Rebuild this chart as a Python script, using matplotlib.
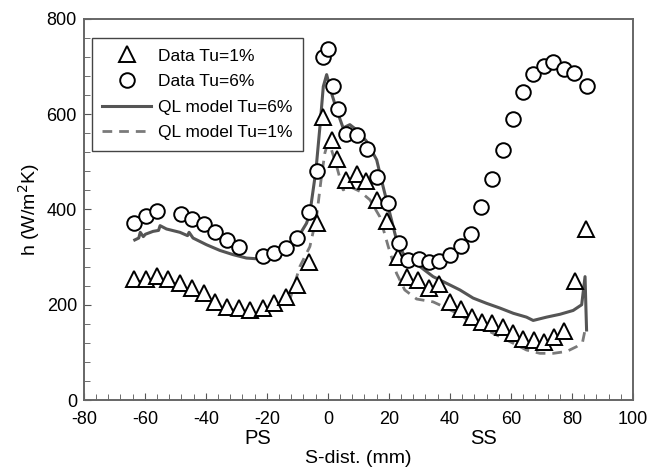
import matplotlib
matplotlib.use("Agg")
import matplotlib.pyplot as plt
from matplotlib.ticker import MultipleLocator

plt.rcParams['font.family'] = ['Liberation Sans', 'DejaVu Sans']
plt.rcParams['axes.unicode_minus'] = False

# measured heat transfer coefficient, Tu = 1%
s_tu1 = [-63.6, -59.7, -56, -52.4, -48.5, -44.5, -40.7, -37, -33, -29.1, -25.4, -21.4,
         -17.5, -13.8, -10.1, -6.2, -3.7, -1.7, 1.5, 3.1, 5.9, 9.4, 12.5, 16, 19.4, 23.1,
         26.1, 29.7, 33.3, 36.5, 39.9, 43.5, 47.1, 50.4, 53.7, 57.3, 60.6, 64, 67.5, 70.9,
         74.1, 77.4, 81, 84.6]
h_tu1 = [254, 255, 261, 255, 245, 235, 224, 206, 196, 193, 189, 193, 203, 216, 241, 290,
         372, 594, 546, 505, 462, 475, 459, 420, 375, 300, 259, 251, 235, 243, 205, 190,
         175, 164, 162, 153, 141, 129, 126, 122, 132, 145, 250, 360]

# measured heat transfer coefficient, Tu = 6%
s_tu6 = [-63.6, -59.7, -56, -48.3, -44.5, -40.7, -37, -33, -29.1, -21.4, -17.5, -13.8,
         -10.1, -6.2, -3.7, -1.7, -0.1, 1.7, 3.2, 5.9, 9.4, 12.7, 16.2, 19.6, 23.4, 26.3,
         29.9, 33.3, 36.5, 39.9, 43.5, 46.8, 50.2, 53.9, 57.3, 60.6, 63.8, 67.3, 70.8, 73.9,
         77.4, 80.7, 84.8]
h_tu6 = [371, 387, 396, 390, 380, 369, 352, 336, 322, 303, 309, 319, 340, 394, 480, 720,
         737, 660, 611, 558, 557, 527, 469, 414, 329, 293, 297, 290, 291, 304, 324, 348,
         405, 464, 524, 590, 646, 685, 702, 709, 695, 686, 660]

# QL model, Tu = 6%
s_ql6 = [-63.3, -62, -61.5, -60.5, -59.8, -57.3, -55.5, -55, -52.9, -48.5, -46, -45.5,
         -44.2, -39.8, -35.4, -31, -26.7, -22.3, -19, -14.7, -10.3, -7, -5.9, -3.9, -2.6,
         -1.5, -0.4, 1.2, 2.9, 5, 7.2, 9.4, 12.7, 16, 18.1, 20.3, 22.5, 25.2, 29.1, 30.2,
         34.5, 38.9, 43.3, 47.6, 52, 56.4, 60.8, 65.1, 67.3, 71.7, 76.1, 80.4, 83.2, 84.3,
         84.6, 84.8]
h_ql6 = [336, 340, 352, 343, 348, 354, 356, 366, 359, 352, 345, 352, 340, 326, 314, 305,
         298, 296, 301, 315, 336, 371, 392, 483, 574, 658, 683, 644, 609, 571, 578, 567,
         543, 504, 448, 392, 336, 301, 290, 280, 259, 245, 231, 214, 203, 193, 182, 174,
         167, 174, 180, 188, 200, 259, 190, 147]

# QL model, Tu = 1%
s_ql1 = [-63.6, -59.7, -56, -52.4, -48.5, -44.5, -40.7, -37, -33, -29.1, -25.4, -21.4,
         -17.5, -12.5, -9.2, -5.9, -3.7, -2.1, -1, -0.2, 1.2, 2.9, 5, 7.2, 10.5, 13.8, 17,
         19.8, 22.5, 25.2, 29.1, 34.5, 38.9, 43.3, 47.6, 52, 56.4, 60.8, 65.1, 69.5, 73.9,
         78.3, 81.5, 83.5, 84.3]
h_ql1 = [248, 250, 255, 250, 240, 229, 218, 202, 191, 187, 184, 187, 196, 210, 280, 322,
         385, 469, 518, 536, 525, 490, 441, 448, 438, 420, 385, 322, 266, 231, 212, 206,
         193, 179, 161, 147, 133, 119, 105, 98, 98, 102, 112, 122, 147]

fig = plt.figure(figsize=(6.6, 4.72), dpi=100)
ax = fig.add_axes([0.127, 0.1525, 0.832, 0.8075])

ax.plot(s_tu1, h_tu1, linestyle='none', marker='^', markersize=11, markerfacecolor='white',
        markeredgecolor='black', markeredgewidth=1.4, label='Data Tu=1%', zorder=3)
ax.plot(s_tu6, h_tu6, linestyle='none', marker='o', markersize=10.5, markerfacecolor='white',
        markeredgecolor='black', markeredgewidth=1.4, label='Data Tu=6%', zorder=3)
ax.plot(s_ql6, h_ql6, color='#555555', linewidth=2.2, label='QL model Tu=6%', zorder=2)
ax.plot(s_ql1, h_ql1, color='#7a7a7a', linewidth=2, linestyle=(0, (3.5, 2.5)),
        label='QL model Tu=1%', zorder=2)

ax.set_xlim(-80, 100)
ax.set_ylim(0, 800)
ax.xaxis.set_major_locator(MultipleLocator(20))
ax.xaxis.set_minor_locator(MultipleLocator(4))
ax.yaxis.set_major_locator(MultipleLocator(200))
ax.yaxis.set_minor_locator(MultipleLocator(40))
ax.tick_params(which='both', direction='in', color='#555555', labelsize=13, pad=5)
ax.tick_params(axis='x', pad=8)
ax.tick_params(which='major', length=5)
ax.tick_params(which='minor', length=4)
for sp in ax.spines.values():
    sp.set_color('#666666')
    sp.set_linewidth(1.4)

ax.set_ylabel('h (W/m$^2$K)', fontsize=14, labelpad=3)
fig.text(0.543, 0.010, 'S-dist. (mm)', fontsize=14, ha='center', va='bottom')
fig.text(0.391, 0.050, 'PS', fontsize=14.5, ha='center', va='bottom')
fig.text(0.732, 0.050, 'SS', fontsize=14.5, ha='center', va='bottom')

leg = ax.legend(loc='upper left', bbox_to_anchor=(0.0146, 0.95), borderaxespad=0,
                fontsize=12.5, fancybox=False, framealpha=1, edgecolor='#444444',
                handlelength=2.8, borderpad=0.6, labelspacing=0.6, handletextpad=0.4)
leg.get_frame().set_linewidth(1.0)

fig.savefig('out.png', dpi=100)
